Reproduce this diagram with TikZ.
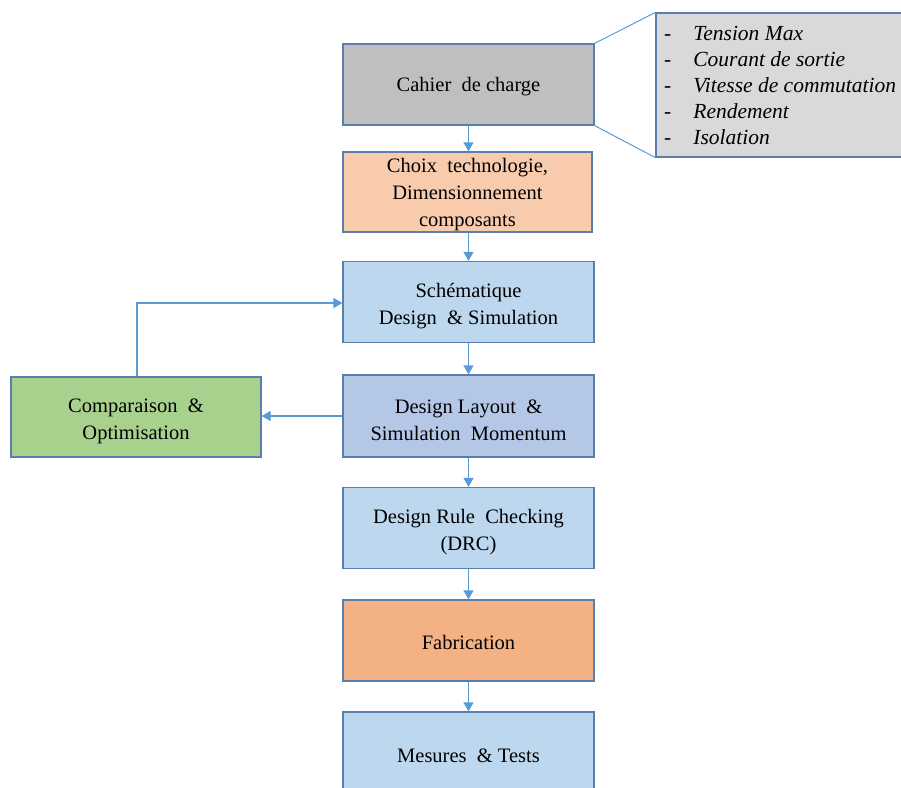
\documentclass[tikz,border=0pt]{standalone}
\usepackage{fontspec}
\setmainfont{Liberation Serif}
\usetikzlibrary{arrows.meta}
\definecolor{bordc}{HTML}{5A7FAE}
\definecolor{arrc}{HTML}{5B9BD5}
\definecolor{grayf}{HTML}{BFBFBF}
\definecolor{specf}{HTML}{D9D9D9}
\definecolor{peachf}{HTML}{F8CBAD}
\definecolor{bluef}{HTML}{BDD7EE}
\definecolor{layf}{HTML}{B4C7E7}
\definecolor{greenf}{HTML}{A9D18E}
\definecolor{fabf}{HTML}{F4B183}
\newcommand\mlup{\rule{0pt}{22.5pt}}
\newcommand\slup{\rule{0pt}{19pt}}
\tikzset{
  stepbox/.style={draw=bordc, line width=1.2pt, minimum width=251pt, minimum height=81pt,
    align=center, inner sep=0pt, font=\fontsize{20.5}{27}\selectfont},
  flow/.style={draw=arrc, line width=1.2pt, -{Triangle[length=9pt,width=10pt]}},
  callout/.style={draw=arrc, line width=1pt}
}
\begin{document}
\begin{tikzpicture}[x=1pt,y=-1pt]
\useasboundingbox (0,0) rectangle (901,787);
\clip (0,0) rectangle (901,787);
\node[stepbox, fill=grayf] (cahier) at (468.5,84.5) {\slup Cahier\ \ de charge};
\node[draw=bordc, line width=1.2pt, fill=specf, minimum width=260pt, minimum height=144pt] (spec) at (786,85) {};
\node[anchor=north west, inner sep=0pt, font=\fontsize{21.5}{26}\selectfont\itshape, align=left] (spectext) at (664,22)
  {\begin{tabular}{@{}l@{\hspace{22pt}}l@{}}
   - & Tension Max\\
   - & Courant de sortie\\
   - & Vitesse de commutation\\
   - & Rendement\\
   - & Isolation
   \end{tabular}};
\node[stepbox, fill=peachf, minimum width=249pt, minimum height=80pt] (choix) at (467.5,192) {\slup Choix\ \ technologie,\\Dimensionnement\\composants};
\node[stepbox, fill=bluef] (schem) at (468.5,302) {\mlup Schématique\\Design\ \ \& Simulation};
\node[stepbox, fill=layf, minimum height=82pt] (layout) at (468.5,416) {\mlup Design Layout\ \ \&\\Simulation\ \ Momentum};
\node[stepbox, fill=greenf, minimum width=250pt, minimum height=80pt] (comp) at (136,417) {\mlup Comparaison\ \ \&\\Optimisation};
\node[stepbox, fill=bluef] (drc) at (468.5,528) {\mlup Design Rule\ \ Checking\\(DRC)};
\node[stepbox, fill=fabf] (fab) at (468.5,640.5) {\slup Fabrication};
\node[draw=bordc, line width=1.2pt, fill=bluef, minimum width=251pt, minimum height=90pt] (mes) at (468.5,757) {};
\node[font=\fontsize{20.5}{27}\selectfont] (mestext) at (468.5,756) {Mesures\ \ \& Tests};
\draw[callout] (cahier.north east) -- (spec.north west);
\draw[callout] (cahier.south east) -- (spec.south west);
\draw[flow] (cahier.south) -- (cahier.south |- choix.north);
\draw[flow] (cahier.south |- choix.south) -- (schem.north);
\draw[flow] (schem.south) -- (layout.north);
\draw[flow] (layout.south) -- (drc.north);
\draw[flow] (drc.south) -- (fab.north);
\draw[flow] (fab.south) -- (mes.north);
\draw[flow] (layout.west) -- (comp.east |- layout.west);
\coordinate (turn) at (137,303);
\draw[flow] (comp.north -| turn) -- (turn) -- (schem.west |- turn);
\end{tikzpicture}
\end{document}
